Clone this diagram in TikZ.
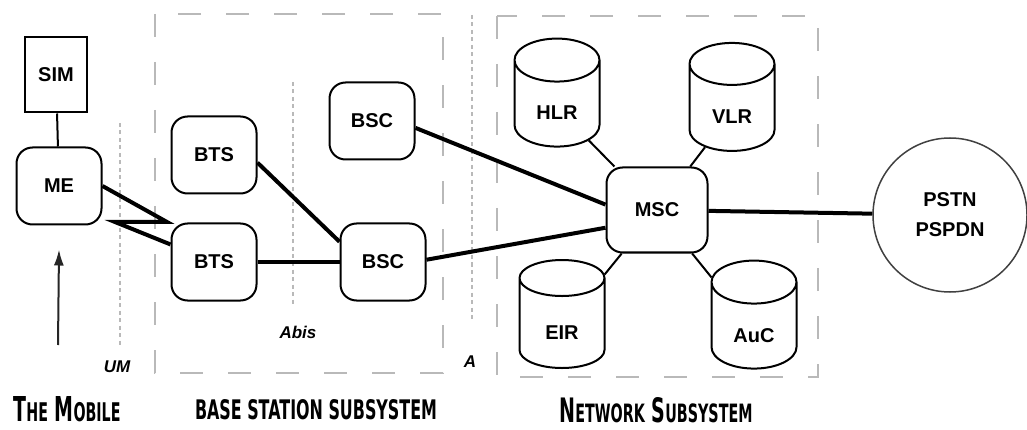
\documentclass[tikz,border=0pt]{standalone}
\usepackage{fontspec}
\setsansfont{Liberation Sans}
\newfontfamily\capfont{DejaVu Sans}
\usepackage{graphicx}
\usetikzlibrary{shapes.geometric,arrows.meta}

\newcommand\smcap[2]{{\fontsize{36}{36}\selectfont #1}{\fontsize{27}{27}\selectfont #2}}
\newcommand\bigspace{{\fontsize{36}{36}\selectfont\ }}
\newcommand\dbtext[1]{\raisebox{-12pt}[0pt][0pt]{#1}}

\begin{document}
\begin{tikzpicture} [x=1pt,y=-1pt,
			element/.style={draw,rounded corners=16pt,line width=2pt,minimum width=85pt,minimum height=77pt,
				font=\sffamily\bfseries\fontsize{20}{24}\selectfont},
			database/.style={draw,cylinder,shape border rotate=90,aspect=0.9,line width=2pt,
				minimum width=85pt,minimum height=108pt,font=\sffamily\bfseries\fontsize{20}{24}\selectfont},
			link/.style={line width=4pt},
			thin link/.style={line width=2pt},
			frame line/.style={gray!55,line width=2.5pt,dash pattern=on 23pt off 25pt},
			interface line/.style={gray!55,line width=2pt,dash pattern=on 4pt off 3.5pt},
			interface/.style={font=\sffamily\bfseries\itshape\fontsize{17}{19}\selectfont},
			subsystem/.style={inner sep=0pt,font=\capfont\bfseries}]
			\useasboundingbox (0,0) rectangle (1027,430);

			% subsystem frames and interfaces
			\draw[frame line] (155,14) rectangle (443,373);
			\draw[frame line] (497,16) rectangle (818,377);
			\draw[interface line] (120,123) -- (120,345);
			\draw[interface line] (293,82) -- (293,305);
			\draw[interface line] (472,15) -- (472,320);
			\node[interface] (um) at (117,367) {UM};
			\node[interface] (abis) at (298,332) {Abis};
			\node[interface] (a) at (470,362) {A};

			% the mobile
			\node[draw,line width=2pt,minimum width=62pt,minimum height=75pt,
				font=\sffamily\bfseries\fontsize{20}{24}\selectfont] (sim) at (56,75) {SIM};
			\node[element] (me) at (59,186) {ME};
			\draw[thin link] (sim) -- (me);
			\coordinate (mobile) at (58,345);
			\draw[thin link,black!85,-{Latex[length=16pt,width=10pt]}] (mobile) -- ([yshift=-24pt]me.south);

			% base station subsystem
			\node[element] (bts_1) at (214,155) {BTS};
			\node[element] (bts_2) at (214,262) {BTS};
			\node[element] (bsc_1) at (372,121) {BSC};
			\node[element] (bsc_2) at (383,262) {BSC};
			\coordinate (z_1) at (167,222);
			\coordinate (z_2) at (115,222);
			\draw[link] (me.east) -- (z_1) -- (z_2) -- (bts_2);
			\draw[link] (bts_1.-10) -- (bsc_2.155);
			\draw[link] (bts_2) -- (bsc_2);

			% network subsystem
			\node[element,minimum width=101pt,minimum height=85pt] (msc) at (657,210) {MSC};
			\node[database] (hlr) at (557,108) {\dbtext{HLR}};
			\node[database] (vlr) at (732,112) {\dbtext{VLR}};
			\node[database] (eir) at (562,327) {\dbtext{EIR}};
			\node[database] (auc) at (754,330) {\dbtext{AuC}};
			\foreach \db in {hlr,vlr,eir,auc}
				\draw[thin link] (\db) -- (msc);
			\draw[link] (bsc_1.-9) -- (msc.174);
			\draw[link] (bsc_2.3) -- (msc.-161);

			\node[draw,circle,black!75,line width=1.5pt,minimum size=154pt,align=center,
				font=\sffamily\bfseries\fontsize{20}{30}\selectfont,text=black] (pstn) at (950,215) {PSTN\\PSPDN};
			\draw[link] (msc) -- (pstn);

			\node[subsystem] (mobile label) at (67,409) {\resizebox{107pt}{25pt}{\smcap{T}{HE}\bigspace\smcap{M}{OBILE}}};
			\node[subsystem] (bss label) at (316,410) {\resizebox{242pt}{20pt}{\fontsize{27}{27}\selectfont BASE STATION SUBSYSTEM}};
			\node[subsystem] (nss label) at (656,410) {\resizebox{193pt}{25pt}{\smcap{N}{ETWORK}\bigspace\smcap{S}{UBSYSTEM}}};
\end{tikzpicture}
\end{document}
